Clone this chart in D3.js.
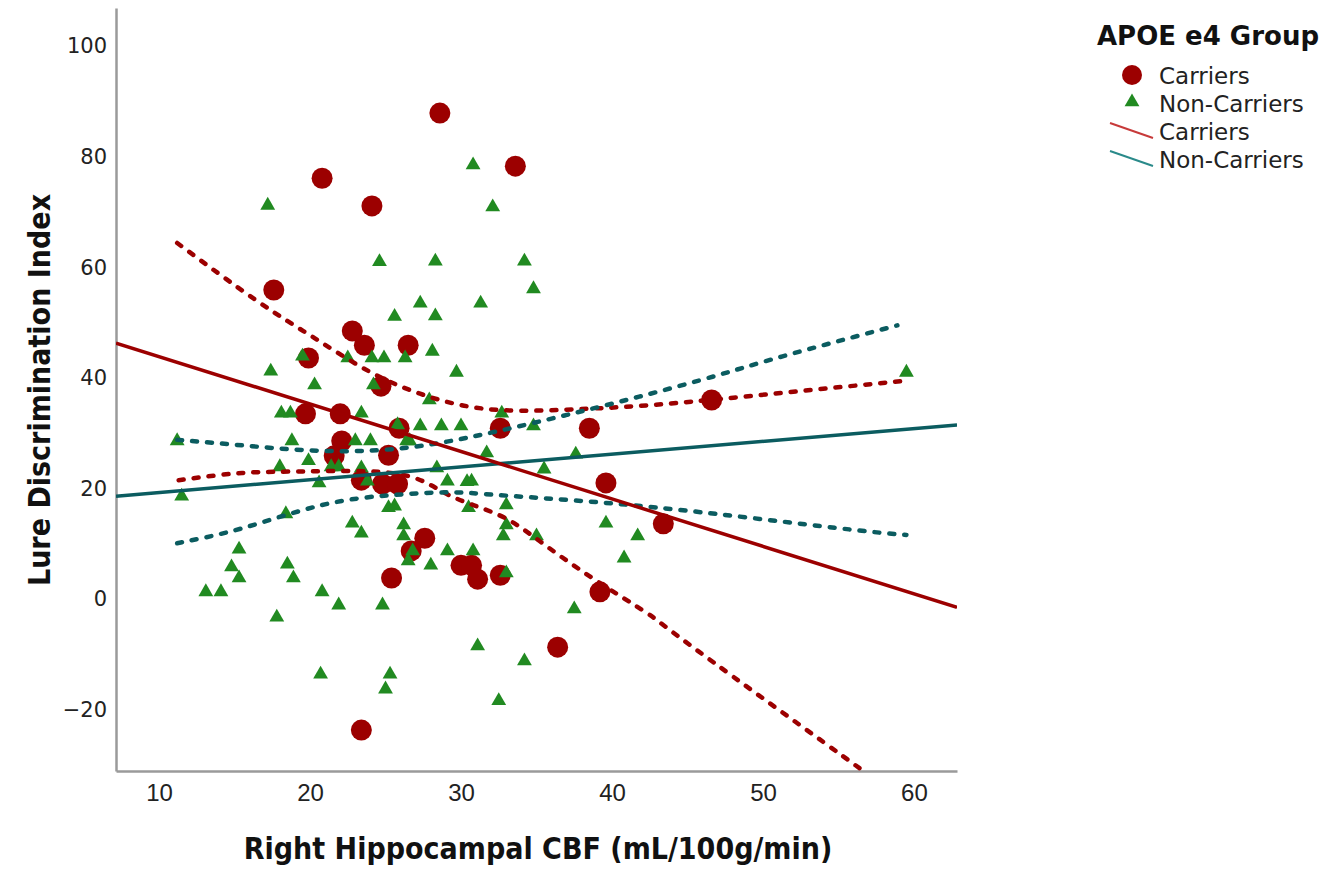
<!DOCTYPE html>
<html lang="en">
<head>
    <meta charset="UTF-8">
    <title>APOE e4 - Lure Discrimination vs Right Hippocampal CBF</title>
    <script src="https://d3js.org/d3.v7.min.js"></script>
    <style>
        body {
            margin: 0;
            background: #ffffff;
        }

        .ytick text {
            font-family: "DejaVu Sans", sans-serif;
            font-size: 21px;
            fill: #222;
        }

        .xtick text {
            font-family: "Liberation Sans", Arial, sans-serif;
            font-size: 24px;
            fill: #222;
        }

        .axis-title {
            font-family: "DejaVu Sans Condensed", "DejaVu Sans", sans-serif;
            font-weight: bold;
            font-size: 30px;
            fill: #111;
        }

        .legend text {
            font-family: "DejaVu Sans", sans-serif;
            font-size: 23px;
            fill: #222;
        }
    </style>
</head>

<body>
<div id="fig"></div>
<script>
    // Carriers (red circles)
    let carrierX = [28.6, 20.8, 33.6, 24.1, 17.6, 22.8, 23.6, 26.5, 19.9, 24.7, 19.7, 22.0, 25.9, 32.6, 38.5,
        46.6, 22.1, 21.6, 25.2, 23.4, 24.8, 25.8, 39.6, 43.4, 27.6, 26.7, 30.0, 30.7, 31.1, 25.4, 32.6, 39.2, 36.4, 23.4]
    let carrierY = [87.9, 76.1, 78.3, 71.1, 55.9, 48.5, 45.9, 45.9, 43.6, 38.5, 33.5, 33.5, 30.9, 30.9, 30.9,
        36.0, 28.6, 25.9, 26.0, 21.5, 20.8, 20.8, 21.0, 13.6, 11.0, 8.7, 6.1, 6.1, 3.6, 3.8, 4.3, 1.3, -8.7, -23.7]

    // Non-Carriers (green triangles)
    let nonCarrierX = [17.2, 24.6, 25.6, 30.8, 32.1, 28.3, 34.2, 34.8, 27.3, 31.3, 28.3, 19.5, 22.5, 24.1, 24.9,
        26.3, 17.4, 20.3, 24.2, 18.1, 18.7, 23.4, 25.8, 11.2, 18.8, 23.0, 24.0, 26.4, 19.9, 18.0, 21.4, 21.9,
        23.4, 20.6, 23.8, 11.5, 18.4, 25.2, 25.6, 26.2, 22.8, 23.4, 26.2, 15.3, 28.1, 29.7, 27.9, 32.7, 27.3,
        28.7, 30.0, 34.8, 26.6, 31.7, 37.6, 35.5, 28.4, 29.1, 30.4, 30.7, 30.5, 33.0, 33.0, 39.6, 41.7, 32.8,
        35.0, 40.8, 26.8, 26.5, 28.0, 29.1, 30.8, 33.0, 37.5, 31.1, 34.2, 32.5, 14.8, 15.3, 18.5, 18.9, 13.1,
        14.1, 20.8, 21.9, 24.8, 17.8, 20.7, 25.3, 25.0, 59.5]
    let nonCarrierY = [71.2, 61.0, 51.1, 78.5, 70.9, 61.1, 61.1, 56.1, 53.5, 53.5, 51.2, 43.9, 43.6, 43.6, 43.6,
        43.6, 41.2, 38.7, 38.7, 33.6, 33.6, 33.6, 31.5, 28.6, 28.6, 28.6, 28.6, 28.6, 25.0, 23.9, 23.9, 23.9,
        23.7, 21.0, 21.3, 18.6, 15.4, 16.5, 16.8, 13.4, 13.7, 11.9, 11.4, 9.0, 44.8, 41.0, 36.0, 33.6, 31.3,
        31.3, 31.3, 31.3, 28.6, 26.4, 26.2, 23.5, 23.7, 21.3, 21.2, 21.3, 16.5, 17.0, 13.4, 13.7, 11.4, 11.4,
        11.4, 7.4, 8.7, 6.9, 6.1, 8.7, 8.7, 4.7, -1.8, -8.5, -11.2, -18.4, 5.8, 3.8, 6.3, 3.8, 1.3,
        1.3, 1.3, -1.1, -1.1, -3.3, -13.6, -13.6, -16.3, 41.0]

    // fit lines (end points at the plot edges)
    let fitX = [7.15, 62.85]
    let carrierFitY = [46.3, -1.5]
    let nonCarrierFitY = [18.6, 31.5]

    // 95% CI curves
    let carrierUpperX = [11.2, 16.5, 20.3, 24.1, 28.0, 32.5, 38.3, 43.6, 51.3, 59.1]
    let carrierUpperY = [64.4, 53.9, 47.2, 40.9, 36.5, 34.2, 34.4, 35.3, 37.3, 39.4]
    let carrierLowerX = [11.3, 15.5, 19.9, 25.9, 29.2, 32.5, 35.2, 38.7, 42.3, 45.6, 56.4, 58.0]
    let carrierLowerY = [21.5, 22.8, 23.1, 22.6, 18.8, 15.2, 10.5, 3.8, -2.5, -9.2, -30.6, -33.8]
    let nonCarrierUpperX = [11.2, 15.5, 19.9, 24.4, 28.5, 32.5, 37.0, 41.8, 46.9, 51.3, 58.9]
    let nonCarrierUpperY = [28.8, 27.8, 26.9, 26.9, 28.2, 30.4, 33.3, 36.6, 40.4, 43.9, 49.5]
    let nonCarrierLowerX = [11.2, 15.5, 20.8, 25.4, 29.2, 32.5, 39.1, 46.9, 55.7, 59.5]
    let nonCarrierLowerY = [10.1, 12.8, 17.0, 18.8, 19.3, 18.8, 17.5, 15.4, 12.6, 11.6]

    let xTicks = [10, 20, 30, 40, 50, 60]
    let yTicks = [-20, 0, 20, 40, 60, 80, 100]

    let groupNames = ["Carriers", "Non-Carriers"]

    let red = "#9c0000"
    let green = "#218a21"
    let teal = "#0b5c60"

    let W = 1344, H = 869
    let plotLeft = 116, plotRight = 957, plotTop = 8, plotBottom = 771

    let svg = d3.select("#fig").append("svg")
        .attr("width", W)
        .attr("height", H)

    let xScale = d3.scaleLinear().domain([7.15, 62.85]).range([plotLeft, plotRight])
    let yScale = d3.scaleLinear().domain([-31.1, 106.9]).range([plotBottom, plotTop])

    function main() {
        svg.append("defs").append("clipPath").attr("id", "plotclip")
            .append("rect")
            .attr("x", plotLeft).attr("y", plotTop)
            .attr("width", plotRight - plotLeft).attr("height", plotBottom - plotTop)

        //////////////////////// axes
        let y_axis = d3.axisLeft(yScale).tickValues(yTicks).tickSize(0).tickPadding(9)
        let x_axis = d3.axisBottom(xScale).tickValues(xTicks).tickSize(0).tickPadding(13)

        let gy = svg.append("g").attr("class", "ytick")
            .attr("transform", `translate(${plotLeft},0)`)
            .call(y_axis)
        let gx = svg.append("g").attr("class", "xtick")
            .attr("transform", `translate(0,${plotBottom})`)
            .call(x_axis)
        gy.select(".domain").attr("stroke", "#9a9a9a").attr("stroke-width", 2.5)
        gx.select(".domain").attr("stroke", "#9a9a9a").attr("stroke-width", 2.5)
        gy.attr("font-family", null).attr("font-size", null)
        gx.attr("font-family", null).attr("font-size", null)

        svg.append("text").attr("class", "axis-title")
            .attr("text-anchor", "middle")
            .attr("transform", `translate(50,390) rotate(-90)`)
            .text("Lure Discrimination Index")

        svg.append("text").attr("class", "axis-title")
            .attr("text-anchor", "middle")
            .attr("x", 538)
            .attr("y", 859)
            .text("Right Hippocampal CBF (mL/100g/min)")

        //////////////////////// points
        let plot = svg.append("g").attr("clip-path", "url(#plotclip)")

        plot.selectAll(".carrier")
            .data(carrierX)
            .enter()
            .append("circle").attr("class", "carrier")
            .attr("cx", (d, i) => xScale(carrierX[i]))
            .attr("cy", (d, i) => yScale(carrierY[i]))
            .attr("r", 10.5)
            .attr("fill", red)

        let tri = d3.symbol().type(d3.symbolTriangle).size(95)
        plot.selectAll(".noncarrier")
            .data(nonCarrierX)
            .enter()
            .append("path").attr("class", "noncarrier")
            .attr("d", tri)
            .attr("transform", (d, i) => `translate(${xScale(nonCarrierX[i])},${yScale(nonCarrierY[i])})`)
            .attr("fill", green)

        //////////////////////// fit lines and CI
        let line = d3.line()
            .x(d => xScale(d[0]))
            .y(d => yScale(d[1]))
        let curve = d3.line()
            .x(d => xScale(d[0]))
            .y(d => yScale(d[1]))
            .curve(d3.curveNatural)

        let ciSets = [
            [carrierUpperX, carrierUpperY, red],
            [carrierLowerX, carrierLowerY, red],
            [nonCarrierUpperX, nonCarrierUpperY, teal],
            [nonCarrierLowerX, nonCarrierLowerY, teal]
        ]
        ciSets.forEach(function (s) {
            plot.append("path")
                .attr("d", curve(d3.zip(s[0], s[1])))
                .attr("fill", "none")
                .attr("stroke", s[2])
                .attr("stroke-width", 4.5)
                .attr("stroke-linecap", "round")
                .attr("stroke-dasharray", "5,10")
        })

        plot.append("path")
            .attr("d", line(d3.zip(fitX, nonCarrierFitY)))
            .attr("fill", "none").attr("stroke", teal).attr("stroke-width", 3.5)
        plot.append("path")
            .attr("d", line(d3.zip(fitX, carrierFitY)))
            .attr("fill", "none").attr("stroke", red).attr("stroke-width", 3.5)

        //////////////////////// legend
        let legend = svg.append("g").attr("class", "legend")
        legend.append("text")
            .attr("x", 1097).attr("y", 45)
            .style("font-size", "26px").style("font-weight", "bold").style("fill", "#111")
            .text("APOE e4 Group")

        legend.append("circle").attr("cx", 1132).attr("cy", 75).attr("r", 10).attr("fill", red)
        legend.append("path").attr("d", tri).attr("fill", green)
            .attr("transform", "translate(1132,102)")
        legend.append("line")
            .attr("x1", 1110).attr("y1", 123).attr("x2", 1153).attr("y2", 138)
            .attr("stroke", "#c73a3a").attr("stroke-width", 2)
        legend.append("line")
            .attr("x1", 1110).attr("y1", 151).attr("x2", 1153).attr("y2", 166)
            .attr("stroke", "#2a8a8a").attr("stroke-width", 2)

        let labels = [groupNames[0], groupNames[1], groupNames[0], groupNames[1]]
        legend.selectAll(".lab")
            .data(labels)
            .enter()
            .append("text").attr("class", "lab")
            .attr("x", 1159)
            .attr("y", (d, i) => 84 + i * 28)
            .text(d => d)
    }

    main()
</script>
</body>
</html>
